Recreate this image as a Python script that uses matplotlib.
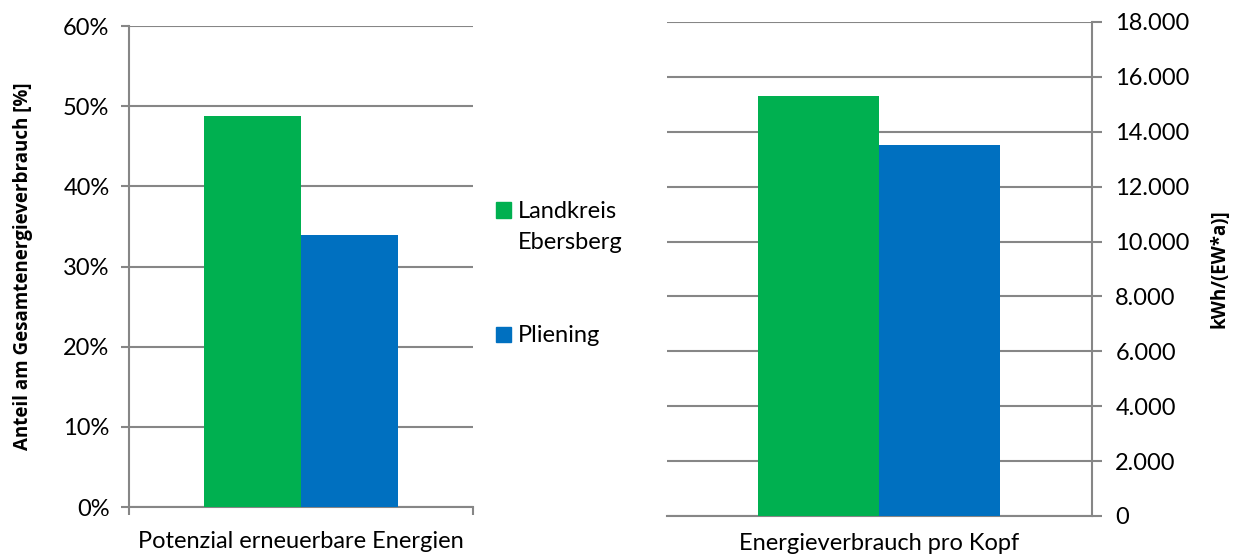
import matplotlib.pyplot as plt
from matplotlib.patches import Rectangle
from matplotlib.ticker import FuncFormatter, MultipleLocator

plt.rcParams['font.family'] = ['Lato', 'DejaVu Sans']

# data
series = ["Landkreis\nEbersberg", "Pliening"]
colors = ["#00B050", "#0070C0"]
potenzial = [48.8, 34.0]          # % of total energy consumption
verbrauch = [15300, 13500]        # kWh per inhabitant and year
left_category = "Potenzial erneuerbare Energien"
right_category = "Energieverbrauch pro Kopf"

grid_col = "#868686"
fs = 17
bold_font = ["Open Sans", "DejaVu Sans"]
fig = plt.figure(figsize=(12.44, 5.54), dpi=100)

# -----------------------------
# Left: share of renewables
# -----------------------------
ax1 = fig.add_axes([0.1037, 0.0848, 0.2765, 0.868])
w = 0.282
for i, (v, c) in enumerate(zip(potenzial, colors)):
    ax1.bar((i - 0.5) * w, v, width=w, color=c, zorder=3)
ax1.set_xlim(-0.5, 0.5)
ax1.set_ylim(0, 60)
ax1.yaxis.set_major_locator(MultipleLocator(10))
ax1.yaxis.set_major_formatter(FuncFormatter(lambda v, p: f"{v:.0f}%"))
ax1.set_xticks([-0.5, 0.5])
ax1.set_xticklabels(["", ""])
ax1.text(0.5, -0.05, left_category, transform=ax1.transAxes,
         ha="center", va="top", fontsize=fs)
ax1.set_ylabel("Anteil am Gesamtenergieverbrauch [%]", fontsize=13.5,
               fontweight="bold", family=bold_font, labelpad=22)
ax1.grid(axis="y", color=grid_col, linewidth=1.5, zorder=0)
for s in ["top", "right"]:
    ax1.spines[s].set_visible(False)
for s in ["left", "bottom"]:
    ax1.spines[s].set_color(grid_col)
    ax1.spines[s].set_linewidth(1.5)
ax1.tick_params(axis="both", color=grid_col, width=1.5, length=6,
                labelsize=fs, pad=8)

# -----------------------------
# Right: consumption per capita
# -----------------------------
ax2 = fig.add_axes([0.536, 0.0686, 0.3416, 0.8917])
w = 0.285
for i, (v, c) in enumerate(zip(verbrauch, colors)):
    ax2.bar((i - 0.5) * w, v, width=w, color=c, zorder=3)
ax2.set_xlim(-0.5, 0.5)
ax2.set_ylim(0, 18000)
ax2.yaxis.set_major_locator(MultipleLocator(2000))
ax2.yaxis.set_major_formatter(
    FuncFormatter(lambda v, p: f"{v:,.0f}".replace(",", ".")))
ax2.yaxis.tick_right()
ax2.yaxis.set_label_position("right")
ax2.set_xticks([])
ax2.text(0.5, -0.035, right_category, transform=ax2.transAxes,
         ha="center", va="top", fontsize=fs)
ax2.set_ylabel("kWh/(EW*a)]", fontsize=13.5, fontweight="bold",
               family=bold_font, labelpad=14)
ax2.grid(axis="y", color=grid_col, linewidth=1.5, zorder=0)
for s in ["top", "left"]:
    ax2.spines[s].set_visible(False)
for s in ["right", "bottom"]:
    ax2.spines[s].set_color(grid_col)
    ax2.spines[s].set_linewidth(1.5)
ax2.tick_params(axis="y", color=grid_col, width=1.5, length=7,
                labelsize=fs, pad=10)

# -----------------------------
# Legend in the middle
# -----------------------------
W, H = 1244, 554
legend_y = [210, 334]
for name, c, y in zip(series, colors, legend_y):
    fig.add_artist(Rectangle((496 / W, 1 - (y + 7.5) / H), 15 / W, 15 / H,
                             transform=fig.transFigure, color=c))
    fig.text(518 / W, 1 - (y - 9) / H, name, ha="left", va="top",
             fontsize=fs, linespacing=1.6)

fig.savefig("out.png", dpi=100)
